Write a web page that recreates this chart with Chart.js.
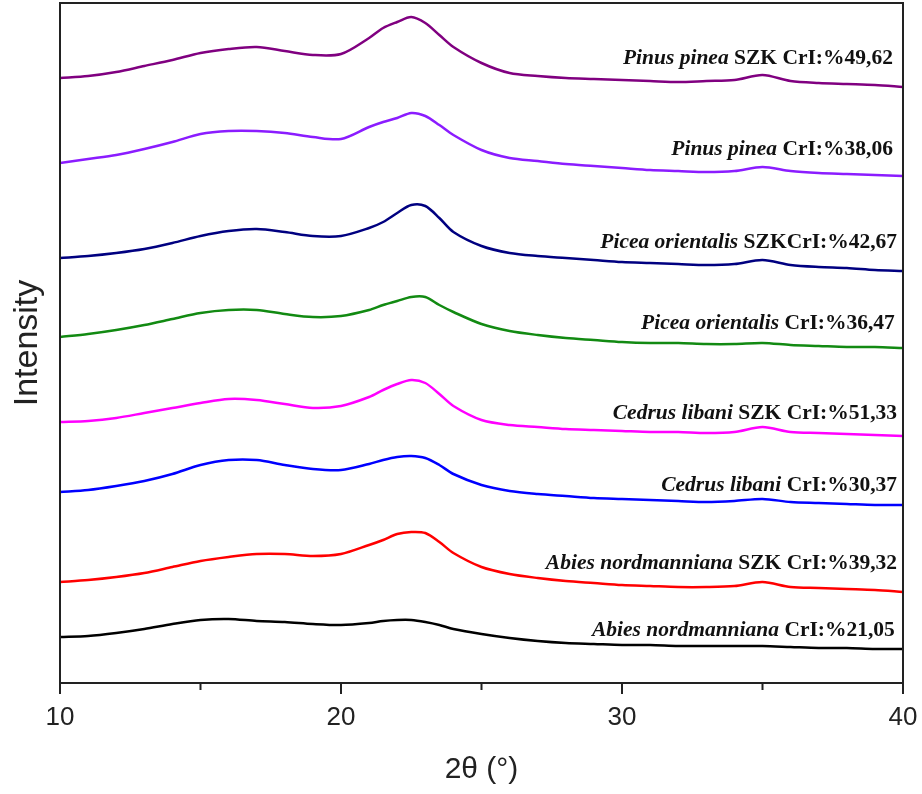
<!DOCTYPE html>
<html>
<head>
<meta charset="utf-8">
<script src="https://cdn.jsdelivr.net/npm/chart.js@4.4.0/dist/chart.umd.min.js"></script>
<style>
  html, body { margin: 0; padding: 0; background: #fff; }
  canvas { display: block; }
</style>
</head>
<body>
<canvas id="xrdChart" width="922" height="794"></canvas>
<script>
const CHART = document.getElementById("xrdChart");

// 2theta positions (degrees)
var twoTheta = [10, 11, 12, 13, 14, 15, 16, 17, 18, 19, 20, 21, 21.5, 22, 22.5, 23, 23.5, 24,
  25, 26, 27, 28, 29, 30, 31, 32, 33, 34, 35, 36, 37, 38, 39, 40];

// stacked intensities (arbitrary units, offset per sample)
var pinusSZK = [605, 607, 611, 617, 623, 630, 634, 636, 632, 628, 629, 645, 655, 661, 666, 660, 648, 636,
  620, 610, 607, 605, 604, 603, 602, 601, 602, 603, 608, 602, 600, 599, 598, 596];
var pinus = [520, 524, 528, 534, 541, 549, 552, 552, 550, 546, 544, 556, 561, 565, 570, 567, 558, 548,
  533, 525, 522, 519, 517, 515, 513, 512, 511, 512, 516, 512, 510, 509, 508, 507];
var piceaSZK = [425, 427, 430, 434, 440, 447, 452, 454, 451, 447, 447, 455, 461, 470, 478, 477, 465, 451,
  437, 430, 427, 425, 423, 421, 420, 419, 418, 419, 423, 418, 416, 415, 413, 412];
var picea = [346, 349, 353, 358, 364, 370, 373, 373, 369, 366, 367, 373, 378, 382, 386, 386, 378, 371,
  359, 352, 348, 345, 343, 341, 340, 340, 339, 339, 340, 338, 337, 336, 336, 335];
var cedrusSZK = [261, 262, 265, 270, 275, 280, 284, 283, 279, 275, 277, 286, 293, 299, 303, 300, 289, 277,
  263, 258, 256, 254, 253, 252, 251, 251, 250, 251, 256, 251, 250, 249, 248, 247];
var cedrus = [191, 193, 197, 202, 209, 218, 223, 223, 218, 214, 213, 219, 223, 226, 227, 225, 218, 209,
  198, 192, 189, 187, 185, 184, 183, 182, 181, 182, 184, 181, 180, 179, 178, 178];
var abiesSZK = [101, 103, 106, 110, 116, 122, 126, 129, 129, 127, 129, 138, 143, 149, 151, 150, 141, 130,
  116, 109, 105, 102, 100, 98, 97, 96, 96, 97, 101, 96, 95, 94, 93, 91];
var abies = [46, 47, 50, 54, 59, 63, 64, 62, 61, 59, 58, 60, 62, 63, 63, 61, 58, 54,
  49, 45, 42, 40, 39, 38, 38, 37, 37, 37, 37, 36, 35, 35, 34, 34];

var species = ["Pinus pinea", "Pinus pinea", "Picea orientalis", "Picea orientalis",
  "Cedrus libani", "Cedrus libani", "Abies nordmanniana", "Abies nordmanniana"];
var suffixes = [" SZK CrI:%49,62", " CrI:%38,06", " SZKCrI:%42,67", " CrI:%36,47",
  " SZK CrI:%51,33", " CrI:%30,37", " SZK CrI:%39,32", " CrI:%21,05"];

var series = [pinusSZK, pinus, piceaSZK, picea, cedrusSZK, cedrus, abiesSZK, abies];
var colors = ["#800080", "#8b1cff", "#000080", "#128a12", "#ff00ff", "#0000ff", "#ff0000", "#000000"];

// where each label sits (x in degrees of its right edge, y in intensity units)
var labelX = [39.64, 39.64, 39.79, 39.71, 39.79, 39.79, 39.79, 39.71];
var labelY = [625, 534, 441, 360, 270, 198, 120, 53];

function toPoints(arr) {
  return arr.map(function (v, i) { return { x: twoTheta[i], y: v }; });
}

var datasets = [];
for (var i = 0; i < series.length; i++) {
  datasets.push({
    label: species[i] + suffixes[i],
    data: toPoints(series[i]),
    borderColor: colors[i],
    borderWidth: 2.5,
    pointRadius: 0,
    fill: false,
    tension: 0.3
  });
}

var framePlugin = {
  id: "frame",
  afterDatasetsDraw: function (chart) {
    var ctx = chart.ctx;
    var a = chart.chartArea;
    var xs = chart.scales.x;
    var ys = chart.scales.y;
    ctx.save();
    ctx.strokeStyle = "#222";
    ctx.lineWidth = 2;
    ctx.strokeRect(a.left, a.top, a.right - a.left, a.bottom - a.top);
    // ticks below the axis
    ctx.beginPath();
    for (var t = 10; t <= 40; t += 5) {
      var px = xs.getPixelForValue(t);
      var len = (t % 10 === 0) ? 11 : 7;
      ctx.moveTo(px, a.bottom);
      ctx.lineTo(px, a.bottom + len);
    }
    ctx.stroke();

    // sample labels
    ctx.fillStyle = "#111";
    ctx.textBaseline = "middle";
    for (var k = 0; k < species.length; k++) {
      var right = xs.getPixelForValue(labelX[k]);
      var y = ys.getPixelForValue(labelY[k]);
      ctx.font = "bold 21.5px 'Liberation Serif', 'Times New Roman', serif";
      var w2 = ctx.measureText(suffixes[k]).width;
      ctx.textAlign = "right";
      ctx.fillText(suffixes[k], right, y);
      ctx.font = "italic bold 21.5px 'Liberation Serif', 'Times New Roman', serif";
      ctx.fillText(species[k], right - w2, y);
    }
    ctx.restore();
  }
};

let xrdChart = new Chart(CHART, {
  type: "line",
  data: { datasets: datasets },
  options: {
    responsive: false,
    animation: false,
    layout: { padding: { top: 3, right: 19, left: 0, bottom: 0 } },
    plugins: {
      legend: { display: false },
      tooltip: { enabled: false }
    },
    scales: {
      x: {
        type: "linear",
        min: 10,
        max: 40,
        grid: { display: false, drawTicks: false },
        border: { display: false },
        ticks: {
          stepSize: 5,
          autoSkip: false,
          maxRotation: 0,
          padding: 19,
          color: "#222",
          font: { family: "'Liberation Sans', Arial, sans-serif", size: 26 },
          callback: function (v) { return v % 10 === 0 ? v : ""; }
        },
        title: {
          display: true,
          text: "2θ (°)",
          color: "#222",
          padding: { top: 6, bottom: 6 },
          font: { family: "'Liberation Sans', Arial, sans-serif", size: 30 }
        },
        afterFit: function (scale) {
          scale.height = 111;
          scale.paddingLeft = 0;
          scale.paddingRight = 0;
        }
      },
      y: {
        min: 0,
        max: 680,
        grid: { display: false, drawTicks: false },
        border: { display: false },
        ticks: { display: false },
        title: {
          display: true,
          text: "Intensity",
          color: "#222",
          padding: { top: 7, bottom: 7 },
          font: { family: "'Liberation Sans', Arial, sans-serif", size: 34 }
        },
        afterFit: function (scale) { scale.width = 60; }
      }
    }
  },
  plugins: [framePlugin]
});
</script>
</body>
</html>
